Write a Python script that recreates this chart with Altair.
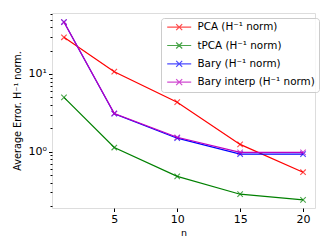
import altair as alt
import pandas as pd

n_vals = [1, 5, 10, 15, 20]
series_names = ["PCA (H⁻¹ norm)", "tPCA (H⁻¹ norm)", "Bary (H⁻¹ norm)", "Bary interp (H⁻¹ norm)"]
pca = [29.7, 10.7, 4.33, 1.24, 0.543]
tpca = [5.0, 1.13, 0.48, 0.283, 0.239]
bary = [46.7, 3.08, 1.49, 0.93, 0.93]
bary_interp = [46.7, 3.1, 1.53, 0.98, 0.98]
colors = ["#ff0000", "#008000", "#0000ff", "#bf00bf"]

rows = []
for order, (name, vals) in enumerate(zip(series_names, [pca, tpca, bary, bary_interp])):
    for n, v in zip(n_vals, vals):
        rows.append({"n": n, "err": v, "series": name, "ord": order})
df = pd.DataFrame(rows)

minor = [0.2, 0.3, 0.4, 0.5, 0.6, 0.7, 0.8, 0.9, 1, 2, 3, 4, 5, 6, 7, 8, 9, 10, 20, 30, 40, 50, 60]

x = alt.X("n:Q", scale=alt.Scale(domain=[0.05, 20.95], nice=False, zero=False),
          axis=alt.Axis(values=[5, 10, 15, 20], title="n", grid=False, tickSize=3.5,
                        labelFontSize=11, titleFontSize=9.5, labelPadding=2, titlePadding=3,
                        domain=False, tickColor="#000", labelColor="#000", titleColor="#000",
                        titleFontWeight="normal"))
y = alt.Y("err:Q", scale=alt.Scale(type="log", domain=[0.188, 61], nice=False),
          axis=alt.Axis(values=minor, grid=False, title="Average Error. H⁻¹ norm.",
                        tickSize={"condition": {"test": "datum.value == 1 || datum.value == 10", "value": 3.5}, "value": 2},
                        labelExpr="datum.value == 1 ? '10⁰' : (datum.value == 10 ? '10¹' : '')",
                        labelFontSize=11, titleFontSize=9.7, labelPadding=2, titlePadding=6,
                        domain=False, tickColor="#000", labelColor="#000", titleColor="#000",
                        titleFontWeight="normal", labelFlush=False, labelOverlap=False))

color = alt.Color("series:N", scale=alt.Scale(domain=series_names, range=colors),
                  legend=alt.Legend(title=None, orient="none", legendX=109, legendY=5,
                                    symbolType="M-1,0L7,0M2,-1L4,1M2,1L4,-1",
                                    symbolSize=36, symbolStrokeWidth=1.2,
                                    labelOffset=22, labelFontSize=10.4, labelColor="#000",
                                    strokeColor="#cccccc", cornerRadius=3,
                                    fillColor="rgba(255,255,255,0.8)", padding=4,
                                    rowPadding=6.3))

layers = []
for i, name in enumerate(series_names):
    base = alt.Chart(df).transform_filter(alt.datum.series == name)
    ln = base.mark_line(strokeWidth=1.2).encode(x=x, y=y, color=color, order=alt.Order("n:Q"))
    pt = base.mark_point(shape="M-1,-1L1,1M-1,1L1,-1", size=30, filled=False,
                         strokeWidth=1.1).encode(x=x, y=y, color=color)
    layers += [ln, pt]

chart = alt.layer(*layers).properties(
    width=263, height=195,
    autosize=alt.AutoSizeParams(type="none"),
    padding={"left": 44, "top": 5, "right": 9, "bottom": 32},
).configure_view(stroke="#000", strokeWidth=1).configure(font="DejaVu Sans")

chart.save("out.html", embed_options={"renderer": "svg", "actions": False})
